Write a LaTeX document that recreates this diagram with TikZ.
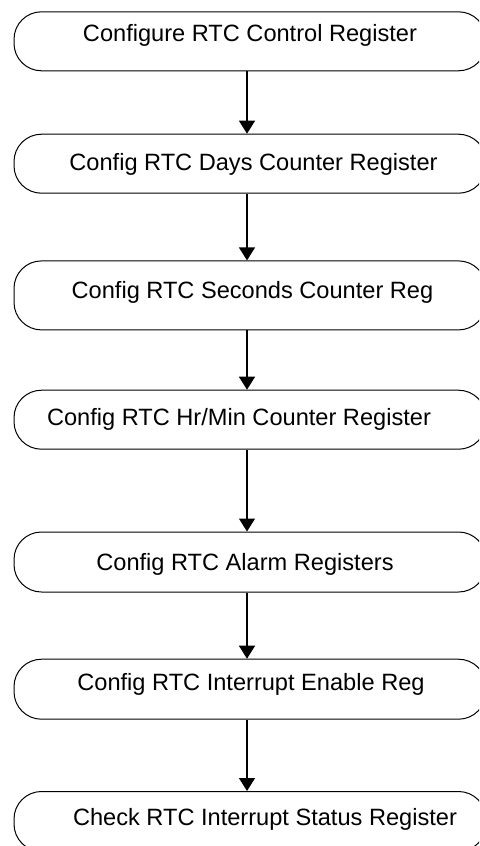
\documentclass[tikz,border=0pt]{standalone}
\usepackage{fontspec}
\setmainfont{Liberation Sans}
\usetikzlibrary{positioning,arrows.meta}

\begin{document}
\begin{tikzpicture}[
  x=0.5pt, y=-0.5pt,
  stepbox/.style={draw, line width=0.5pt, rounded corners=13.75pt,
                  minimum width=236pt, minimum height=29.5pt, inner sep=0pt},
  steptext/.style={font=\fontsize{11.8pt}{14pt}\selectfont, anchor=base, inner sep=0pt},
  flow/.style={-{Triangle[length=6.5pt,width=8pt]}, line width=0.65pt},
]

% ---- Frame (reference is cropped at right and bottom) ------------------------
\useasboundingbox (0,0) rectangle (479,846);
\clip (0,0) rectangle (479,846);

% ---- Boxes ------------------------------------------------------------------
\node[stepbox]                       (ctl)   at (250,41.3)  {};
\node[stepbox]                       (days)  at (250,163.7) {};
\node[stepbox, minimum height=34.5pt] (secs) at (250,295.4) {};
\node[stepbox]                       (hrmin) at (250,419.7) {};
\node[stepbox, minimum height=30pt]  (alarm) at (250,562)   {};
\node[stepbox, minimum height=30pt]  (inten) at (250,689.2) {};
\node[stepbox, minimum height=30pt]  (stat)  at (250,821.5) {};

% ---- Texts ------------------------------------------------------------------
\node[steptext] (ctl-t)   at (250,41.7)  {Configure RTC Control Register};
\node[steptext] (days-t)  at (253.5,170) {Config RTC Days Counter Register};
\node[steptext] (secs-t)  at (252.5,298) {Config RTC Seconds Counter Reg};
\node[steptext] (hrmin-t) at (239,425)   {Config RTC Hr/Min Counter Register};
\node[steptext] (alarm-t) at (245,570)   {Config RTC Alarm Registers};
\node[steptext] (inten-t) at (251,690)   {Config RTC Interrupt Enable Reg};
\node[steptext] (stat-t)  at (265,825)   {Check RTC Interrupt Status Register};

% ---- Arrows -----------------------------------------------------------------
\foreach \a/\b in {ctl/days, days/secs, secs/hrmin, hrmin/alarm, alarm/inten, inten/stat}
  \draw[flow] ([xshift=-1.5pt]\a.south) -- ([xshift=-1.5pt]\b.north);

\end{tikzpicture}
\end{document}
